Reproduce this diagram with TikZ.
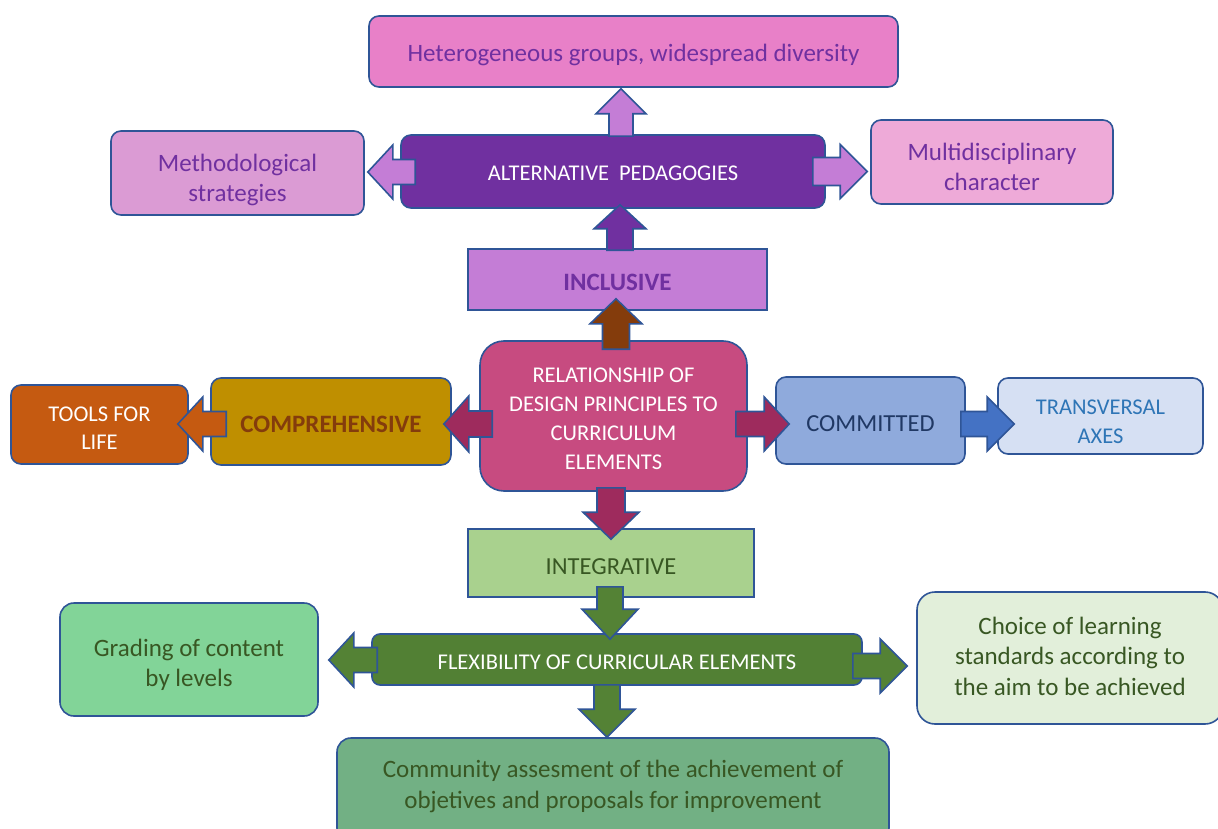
\documentclass[tikz,border=0pt]{standalone}
\usepackage{fontspec}
\setmainfont{Carlito}
\usetikzlibrary{calc}
\definecolor{bord}{RGB}{47,85,151}
\definecolor{purp}{RGB}{112,48,160}
\definecolor{hetc}{RGB}{232,128,200}
\definecolor{methc}{RGB}{219,155,212}
\definecolor{multic}{RGB}{238,170,216}
\definecolor{incc}{RGB}{196,125,214}
\definecolor{cenc}{RGB}{199,75,128}
\definecolor{compc}{RGB}{191,143,0}
\definecolor{brownc}{RGB}{132,60,12}
\definecolor{toolc}{RGB}{197,90,17}
\definecolor{cmtc}{RGB}{143,170,220}
\definecolor{cmttxt}{RGB}{32,56,100}
\definecolor{transc}{RGB}{214,224,243}
\definecolor{transtxt}{RGB}{46,117,182}
\definecolor{integc}{RGB}{169,209,142}
\definecolor{greentxt}{RGB}{56,87,35}
\definecolor{flexc}{RGB}{82,128,52}
\definecolor{gradc}{RGB}{130,212,152}
\definecolor{choicec}{RGB}{226,239,218}
\definecolor{cmtyc}{RGB}{114,176,132}
\definecolor{magc}{RGB}{158,43,93}
\definecolor{bluec}{RGB}{68,114,196}
\definecolor{greenarr}{RGB}{84,130,53}
\newcommand\fbig{\fontsize{25}{30}\selectfont}
\newcommand\fcap{\fontsize{22.5}{29}\selectfont}
\tikzset{
  box/.style={draw=bord, line width=1.6pt, rounded corners=10pt, inner sep=0pt},
  txt/.style={align=center, inner sep=0pt},
  blockarr/.style={draw=bord, line width=1.6pt, line join=miter},
}
% #1 fill colour, #2 from, #3 to, #4 shaft half width, #5 head half width, #6 head length
\newcommand\barrow[6]{%
  \path[blockarr, fill=#1] let \p1=#2, \p2=#3,
    \n1={veclen(\x2-\x1,\y2-\y1)},
    \n2={(\x2-\x1)/\n1}, \n3={(\y2-\y1)/\n1} in
    ({\x1-(\n3)*#4},{\y1+(\n2)*#4})
    -- ({\x2-(\n2)*#6-(\n3)*#4},{\y2-(\n3)*#6+(\n2)*#4})
    -- ({\x2-(\n2)*#6-(\n3)*#5},{\y2-(\n3)*#6+(\n2)*#5})
    -- (\p2)
    -- ({\x2-(\n2)*#6+(\n3)*#5},{\y2-(\n3)*#6-(\n2)*#5})
    -- ({\x2-(\n2)*#6+(\n3)*#4},{\y2-(\n3)*#6-(\n2)*#4})
    -- ({\x1+(\n3)*#4},{\y1-(\n2)*#4}) -- cycle;}
\begin{document}
\begin{tikzpicture}[x=1pt,y=-1pt]
\useasboundingbox (0,0) rectangle (1218,829);
% boxes (text as centred labels, shifted to match)
\node[box, fill=hetc, minimum width=529pt, minimum height=71pt,
  label={[txt, name=hetT, text=purp, font=\fbig, yshift=-3pt]center:{Heterogeneous groups, widespread diversity}}] (het) at (633.5,51.5) {};
\node[box, fill=methc, minimum width=253pt, minimum height=84pt,
  label={[txt, name=methT, text=purp, font=\fbig, yshift=-7pt]center:{Methodological\\strategies}}] (meth) at (237.5,173) {};
\node[box, fill=purp, minimum width=424pt, minimum height=73pt,
  label={[txt, name=altT, text=white, font=\fcap, yshift=-2pt]center:{ALTERNATIVE\hspace{0.45em}PEDAGOGIES}}] (alt) at (613,171.5) {};
\node[box, fill=multic, minimum width=242pt, minimum height=84pt,
  label={[txt, name=multiT, text=purp, font=\fbig, yshift=-5pt]center:{Multidisciplinary\\character}}] (multi) at (992,162) {};
\node[box, rounded corners=0pt, fill=incc, minimum width=299pt, minimum height=61pt,
  label={[txt, name=incT, text=purp, font=\fbig\bfseries, yshift=-3pt]center:{INCLUSIVE}}] (inc) at (617.5,279.5) {};
\node[box, rounded corners=24pt, fill=cenc, minimum width=267pt, minimum height=150pt,
  label={[txt, name=cenT, text=white, font=\fcap, yshift=-3pt]center:{RELATIONSHIP OF\\DESIGN PRINCIPLES TO\\CURRICULUM\\ELEMENTS}}] (cen) at (613.5,416) {};
\node[box, fill=compc, minimum width=240pt, minimum height=87pt,
  label={[txt, name=compT, text=brownc, font=\fbig\bfseries, yshift=-3pt]center:{COMPREHENSIVE}}] (comp) at (331,421.5) {};
\node[box, fill=toolc, minimum width=177pt, minimum height=79pt,
  label={[txt, name=toolsT, text=white, font=\fontsize{22.5}{28}\selectfont, yshift=-4pt]center:{TOOLS FOR\\LIFE}}] (tools) at (99.5,424.5) {};
\node[box, fill=cmtc, minimum width=189pt, minimum height=87pt,
  label={[txt, name=cmtT, text=cmttxt, font=\fontsize{24.5}{29}\selectfont, yshift=-3pt]center:{COMMITTED}}] (cmt) at (870.5,420.5) {};
\node[box, fill=transc, minimum width=205pt, minimum height=76pt,
  label={[txt, name=transT, text=transtxt, font=\fcap, yshift=-6pt]center:{TRANSVERSAL\\AXES}}] (trans) at (1100.5,416) {};
\node[box, rounded corners=0pt, fill=integc, minimum width=286pt, minimum height=68pt,
  label={[txt, name=integT, text=greentxt, font=\fontsize{24.5}{29}\selectfont, yshift=-4pt]center:{INTEGRATIVE}}] (integ) at (611,563) {};
\node[box, rounded corners=8pt, fill=flexc, minimum width=490pt, minimum height=51pt,
  label={[txt, name=flexT, text=white, font=\fcap, yshift=-3pt]center:{FLEXIBILITY OF CURRICULAR ELEMENTS}}] (flex) at (617,659.5) {};
\node[box, rounded corners=14pt, fill=gradc, minimum width=258pt, minimum height=113pt,
  label={[txt, name=gradT, text=greentxt, font=\fbig, yshift=-5pt]center:{Grading of content\\by levels}}] (grad) at (189,659.5) {};
\node[box, rounded corners=18pt, fill=choicec, minimum width=306pt, minimum height=132pt,
  label={[txt, name=choiceT, text=greentxt, font=\fontsize{25}{30.5}\selectfont, yshift=2pt]center:{Choice of learning\\standards according to\\the aim to be achieved}}] (choice) at (1070,658) {};
\node[box, rounded corners=14pt, fill=cmtyc, minimum width=552pt, minimum height=104pt,
  label={[txt, name=cmtyT, text=greentxt, font=\fontsize{25}{31}\selectfont, yshift=4pt]center:{Community assesment of the achievement of\\objetives and proposals for improvement}}] (cmty) at (613,790) {};
% block arrows
\barrow{incc}{($(alt.north)+(8,2)$)}{($(alt.north|-het.south)+(8,1)$)}{12}{25}{25}
\barrow{incc}{($(alt.west)+(15,0.5)$)}{($(meth.east|-alt.west)+(3,0.5)$)}{12.5}{27}{25}
\barrow{incc}{($(alt.east)+(-13,0)$)}{($(multi.west|-alt.east)+(-3,0)$)}{14}{27}{27}
\barrow{purp}{($(inc.north)+(2.5,2)$)}{($(inc.north|-alt.south)+(2.5,-4)$)}{13}{26}{24}
\barrow{brownc}{($(cen.north)+(2.5,9)$)}{($(cen.north|-inc.south)+(2.5,-12)$)}{13.5}{26}{25}
\barrow{magc}{($(cen.west)+(13,8)$)}{($(comp.east|-cen.west)+(-8,8)$)}{13}{28}{25}
\barrow{toolc}{($(comp.west)+(16,2.5)$)}{($(tools.east|-comp.west)+(-11,2.5)$)}{12.5}{27}{25}
\barrow{magc}{($(cen.east)+(-12,8)$)}{($(cmt.west|-cen.east)+(14,8)$)}{12.5}{27}{25}
\barrow{bluec}{($(cmt.east)+(-5,3.5)$)}{($(trans.west|-cmt.east)+(17,3.5)$)}{12.5}{27}{27}
\barrow{magc}{($(cen.south)+(-2.5,-4)$)}{($(cen.south|-integ.north)+(-2.5,11)$)}{14}{28}{27}
\barrow{greenarr}{($(integ.south)+(-1,-11)$)}{($(integ.south|-flex.north)+(-1,6)$)}{13}{28}{30}
\barrow{greenarr}{($(flex.south)+(-10,-1)$)}{($(flex.south|-cmty.north)+(-10,0)$)}{13}{28}{28}
\barrow{greenarr}{($(flex.west)+(6,0.5)$)}{($(grad.east|-flex.west)+(10,0.5)$)}{12.5}{27}{25}
\barrow{greenarr}{($(flex.east)+(-10,6.5)$)}{($(choice.west|-flex.east)+(-9,6.5)$)}{12.5}{27}{27}
\end{tikzpicture}
\end{document}
